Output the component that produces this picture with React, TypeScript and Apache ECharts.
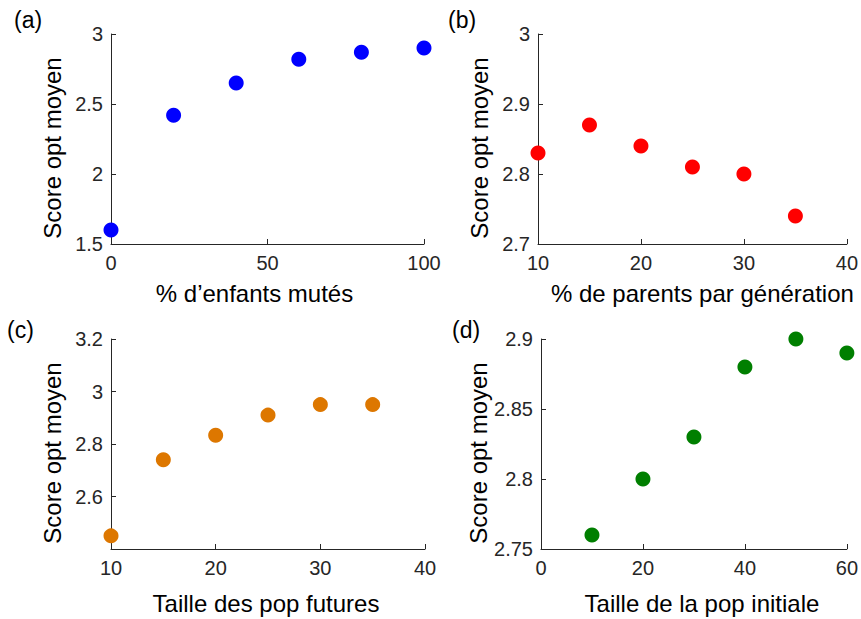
import React, { useEffect, useRef } from "react";
import * as echarts from "echarts";

// Panel (a)
const xA = [0, 20, 40, 60, 80, 100];
const yA = [1.6, 2.42, 2.65, 2.82, 2.87, 2.9];
// Panel (b)
const xB = [10, 15, 20, 25, 30, 35];
const yB = [2.83, 2.87, 2.84, 2.81, 2.8, 2.74];
// Panel (c)
const xC = [10, 15, 20, 25, 30, 35];
const yC = [2.45, 2.74, 2.833, 2.91, 2.95, 2.95];
// Panel (d)
const xD = [10, 20, 30, 40, 50, 60];
const yD = [2.76, 2.8, 2.83, 2.88, 2.9, 2.89];

const panelLabels = ["(a)", "(b)", "(c)", "(d)"];
const xTitles = [
  "% d\u2019enfants mut\u00e9s",
  "% de parents par g\u00e9n\u00e9ration",
  "Taille des pop futures",
  "Taille de la pop initiale",
];
const yTitle = "Score opt moyen";

const FONT = "Liberation Sans, Arial, sans-serif";
const AXIS_COLOR = "#262626";

export default function App() {
  const ref = useRef<HTMLDivElement>(null);
  useEffect(() => {
    if (!ref.current) return;
    const chart = echarts.init(ref.current, null, { renderer: "svg" });
    const grids = [
      { left: 111, top: 34, width: 313, height: 210 },
      { left: 538, top: 34, width: 313, height: 210 },
      { left: 111, top: 339, width: 314, height: 210 },
      { left: 541, top: 339, width: 310, height: 210 },
    ];
    const xr = [
      { min: 0, max: 100, interval: 50 },
      { min: 10, max: 40, interval: 10 },
      { min: 10, max: 40, interval: 10 },
      { min: 0, max: 60, interval: 20 },
    ];
    const yr = [
      { min: 1.5, max: 3, interval: 0.5, showMin: true },
      { min: 2.7, max: 3, interval: 0.1, showMin: true },
      { min: 2.4, max: 3.2, interval: 0.2, showMin: false },
      { min: 2.75, max: 2.9, interval: 0.05, showMin: true },
    ];
    const xNamePad = [
      [0, 26, 0, 0],
      [0, 0, 0, 20],
      [0, 4, 0, 0],
      [0, 0, 0, 16],
    ];
    const xGaps = [37, 37, 42, 42];
    const xData = [xA, xB, xC, xD];
    const yData = [yA, yB, yC, yD];
    const colors = ["#0000ff", "#ff0000", "#dd7700", "#007f00"];
    const labelPos = [
      [14, 8],
      [448, 8],
      [7, 318],
      [452, 318],
    ];

    const axisCommon = {
      axisLine: { show: true, lineStyle: { color: AXIS_COLOR, width: 1 } },
      axisTick: { show: true, inside: true, length: 5, lineStyle: { color: AXIS_COLOR } },
      splitLine: { show: false },
      axisLabel: { color: "#262626", fontSize: 20, fontFamily: FONT },
      nameTextStyle: { color: "#000", fontSize: 24, fontFamily: FONT },
    };

    const option: any = {
      animation: false,
      backgroundColor: "#ffffff",
      grid: grids,
      xAxis: grids.map((_, i) => ({
        ...axisCommon,
        type: "value",
        gridIndex: i,
        min: xr[i].min,
        max: xr[i].max,
        interval: xr[i].interval,
        name: xTitles[i],
        nameLocation: "middle",
        nameGap: xGaps[i],
        nameTextStyle: { ...axisCommon.nameTextStyle, padding: xNamePad[i] },
        axisLabel: { ...axisCommon.axisLabel, margin: 9 },
      })),
      yAxis: grids.map((_, i) => ({
        ...axisCommon,
        type: "value",
        gridIndex: i,
        min: yr[i].min,
        max: yr[i].max,
        interval: yr[i].interval,
        name: yTitle,
        nameLocation: "middle",
        nameGap: 47,
        nameTextStyle: { ...axisCommon.nameTextStyle, padding: [0, 18, 0, 0] },
        axisLabel: {
          ...axisCommon.axisLabel,
          margin: 8,
          showMinLabel: yr[i].showMin,
        },
      })),
      series: grids.map((_, i) => ({
        type: "scatter",
        xAxisIndex: i,
        yAxisIndex: i,
        symbol: "circle",
        symbolSize: 15,
        clip: false,
        itemStyle: { color: colors[i], opacity: 1 },
        data: xData[i].map((x, j) => [x, yData[i][j]]),
      })),
      graphic: panelLabels.map((t, i) => ({
        type: "text",
        left: labelPos[i][0],
        top: labelPos[i][1],
        style: { text: t, fontSize: 23, fontFamily: FONT, fill: "#000" },
      })),
    };
    chart.setOption(option);
    return () => chart.dispose();
  }, []);
  return (
    <div
      ref={ref}
      style={{ position: "fixed", left: 0, top: 0, width: 861, height: 619, background: "#fff" }}
    />
  );
}
